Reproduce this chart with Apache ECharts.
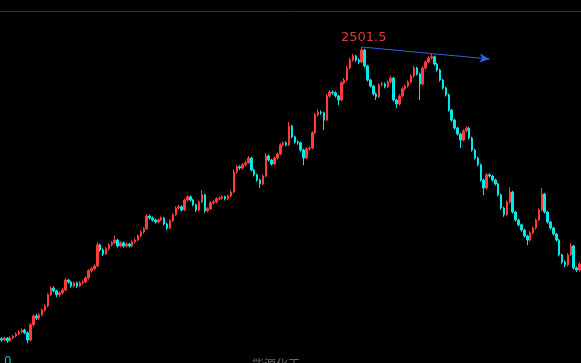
<!DOCTYPE html>
<html>
<head>
<meta charset="utf-8">
<script src="https://cdn.jsdelivr.net/npm/echarts@6/dist/echarts.min.js"></script>
<style>html,body{margin:0;padding:0;background:#000;}#c{width:581px;height:363px;}</style>
</head>
<body>
<div id="c"></div>
<script>
const opens = [1772,1769,1774,1767,1774,1779,1784,1789,1794,1787,1769,1807,1829,1824,1832,1844,1854,1882,1899,1892,
1882,1887,1894,1919,1914,1904,1912,1904,1912,1914,1924,1942,1947,1954,2007,1994,1984,1997,2007,2012,
2019,2004,2012,2004,2009,2004,2014,2019,2029,2039,2047,2079,2074,2069,2064,2069,2074,2059,2049,2067,
2082,2099,2102,2094,2119,2127,2119,2107,2094,2114,2132,2092,2097,2112,2114,2122,2124,2127,2122,2129,
2139,2189,2202,2199,2207,2212,2224,2194,2182,2169,2159,2179,2229,2219,2209,2224,2234,2257,2262,2257,
2304,2277,2264,2262,2244,2224,2247,2249,2287,2332,2339,2337,2319,2379,2389,2387,2379,2369,2412,2419,
2449,2469,2479,2469,2464,2494,2454,2419,2404,2384,2377,2407,2409,2402,2414,2424,2369,2359,2379,2397,
2404,2414,2429,2449,2434,2409,2449,2464,2474,2477,2459,2444,2419,2399,2382,2344,2319,2299,2284,2269,
2292,2299,2274,2244,2224,2207,2169,2149,2182,2179,2169,2159,2132,2099,2082,2114,2139,2089,2069,2057,
2044,2029,2019,2037,2049,2069,2094,2134,2089,2064,2049,2034,2019,1982,1964,1957,1982,2004,1949,1944];
const closes = [1769,1774,1767,1774,1779,1784,1789,1794,1787,1769,1807,1829,1824,1832,1844,1854,1882,1899,1892,1882,
1887,1894,1919,1914,1904,1912,1904,1912,1914,1924,1942,1947,1954,2007,1994,1984,1997,2007,2012,2019,
2004,2012,2004,2009,2004,2014,2019,2029,2039,2047,2079,2074,2069,2064,2069,2074,2059,2049,2067,2082,
2099,2102,2094,2119,2127,2119,2107,2094,2114,2132,2092,2097,2112,2114,2122,2124,2127,2122,2129,2139,
2189,2202,2199,2207,2212,2224,2194,2182,2169,2159,2179,2229,2219,2209,2224,2234,2257,2262,2257,2304,
2277,2264,2262,2244,2224,2247,2249,2287,2332,2339,2337,2319,2379,2389,2387,2379,2369,2412,2419,2449,
2469,2479,2469,2464,2494,2454,2419,2404,2384,2377,2407,2409,2402,2414,2424,2369,2359,2379,2397,2404,
2414,2429,2449,2434,2409,2449,2464,2474,2477,2459,2444,2419,2399,2382,2344,2319,2299,2284,2269,2292,
2299,2274,2244,2224,2207,2169,2149,2182,2179,2169,2159,2132,2099,2082,2114,2139,2089,2069,2057,2044,
2029,2019,2037,2049,2069,2094,2134,2089,2064,2049,2034,2019,1982,1964,1957,1982,2004,1949,1944,1959];
const lows = [1765,1766,1762,1764,1771,1776,1781,1786,1783,1761,1766,1803,1819,1820,1829,1840,1851,1879,1888,1876,
1876,1883,1891,1909,1900,1900,1899,1901,1908,1911,1920,1938,1943,1951,1990,1979,1981,1993,2003,2009,
2000,2001,2000,2001,2000,2001,2010,2016,2026,2035,2044,2070,2065,2060,2061,2066,2055,2044,2046,2064,
2079,2095,2090,2091,2115,2115,2103,2089,2091,2111,2087,2088,2094,2108,2111,2118,2120,2118,2119,2126,
2136,2185,2194,2195,2203,2209,2190,2178,2165,2149,2156,2176,2215,2205,2206,2220,2231,2253,2253,2254,
2273,2260,2257,2240,2206,2221,2243,2246,2284,2328,2332,2294,2316,2375,2382,2375,2356,2366,2408,2416,
2446,2465,2464,2459,2461,2450,2415,2400,2380,2369,2374,2403,2398,2399,2410,2365,2349,2355,2375,2393,
2400,2410,2425,2430,2369,2405,2445,2460,2470,2455,2440,2415,2395,2378,2340,2315,2295,2280,2249,2265,
2288,2270,2240,2220,2203,2165,2131,2145,2175,2165,2155,2128,2095,2077,2079,2110,2085,2065,2053,2040,
2025,2006,2015,2033,2045,2066,2091,2085,2060,2045,2030,2015,1978,1959,1951,1953,1979,1945,1939,1940];
const highs = [1776,1777,1776,1778,1782,1788,1793,1798,1797,1790,1811,1833,1834,1836,1848,1858,1886,1904,1903,1895,
1891,1898,1924,1922,1917,1915,1915,1916,1918,1928,1946,1951,1958,2014,2010,1998,2001,2011,2016,2030,
2022,2016,2015,2013,2012,2018,2023,2033,2043,2051,2084,2083,2078,2073,2073,2078,2077,2062,2071,2086,
2103,2107,2106,2123,2132,2130,2122,2110,2118,2144,2135,2101,2116,2119,2126,2128,2131,2130,2133,2143,
2196,2207,2206,2211,2217,2229,2227,2197,2185,2172,2183,2236,2233,2222,2228,2238,2261,2266,2266,2314,
2307,2280,2268,2265,2247,2251,2253,2291,2337,2345,2343,2340,2384,2394,2393,2391,2382,2417,2424,2454,
2474,2484,2482,2473,2501.5,2497,2457,2422,2407,2388,2411,2414,2413,2418,2429,2427,2372,2383,2401,2408,
2418,2433,2454,2452,2437,2453,2468,2479,2486,2480,2462,2447,2422,2402,2385,2347,2322,2302,2287,2296,
2304,2302,2277,2247,2227,2210,2172,2186,2186,2182,2172,2162,2135,2102,2118,2151,2142,2092,2072,2060,
2047,2032,2041,2053,2073,2098,2149,2137,2092,2067,2052,2037,2022,1985,1968,1986,2011,2007,1953,1963];
const categories = opens.map((_, i) => 'D' + (i + 1));
const peakLabel = '2501.5';
const arrowEnd = { index: 168, value: 2471.5 };

const chart = echarts.init(document.getElementById('c'), null, { renderer: 'canvas' });
chart.setOption({
  backgroundColor: '#000',
  animation: false,
  grid: { left: 0, right: 0, top: 11, bottom: 0 },
  xAxis: { type: 'category', data: categories, boundaryGap: true, show: false },
  yAxis: { type: 'value', min: 1711.5, max: 2591.5, show: false, splitLine: { show: false } },
  series: [{
    type: 'candlestick',
    barWidth: 2,
    data: opens.map((o, i) => [o, closes[i], lows[i], highs[i]]),
    itemStyle: {
      color: '#ff3b3b', color0: '#00e8e8',
      borderColor: '#ff3b3b', borderColor0: '#00e8e8', borderWidth: 1
    },
    markPoint: {
      symbol: 'circle', symbolSize: 0,
      data: [{ type: 'max', valueDim: 'highest' }],
      label: {
        show: true, formatter: peakLabel, color: '#d83a3a',
        fontSize: 13, fontFamily: 'DejaVu Sans', position: 'top', distance: 3, offset: [2, 0]
      }
    },
    markLine: {
      silent: true,
      symbol: ['none', 'arrow'],
      symbolSize: [7, 10],
      lineStyle: { color: '#2f63d8', width: 1, type: 'solid' },
      label: { show: false },
      data: [[
        { coord: [categories[124], 2501.5] },
        { coord: [categories[arrowEnd.index], arrowEnd.value] }
      ]]
    }
  }],
  graphic: [
    { type: 'line', shape: { x1: 0, y1: 11.5, x2: 581, y2: 11.5 }, style: { stroke: '#7a1818', lineWidth: 1 } },
    { type: 'text', left: 4, top: 356, style: { text: '0', fill: '#20b8b8', fontSize: 12, fontFamily: 'DejaVu Sans' } },
    { type: 'text', left: 252, top: 358, style: { text: '能源化工', fill: '#666', fontSize: 12, fontFamily: 'Noto Sans CJK SC' } }
  ]
});
</script>
</body>
</html>
